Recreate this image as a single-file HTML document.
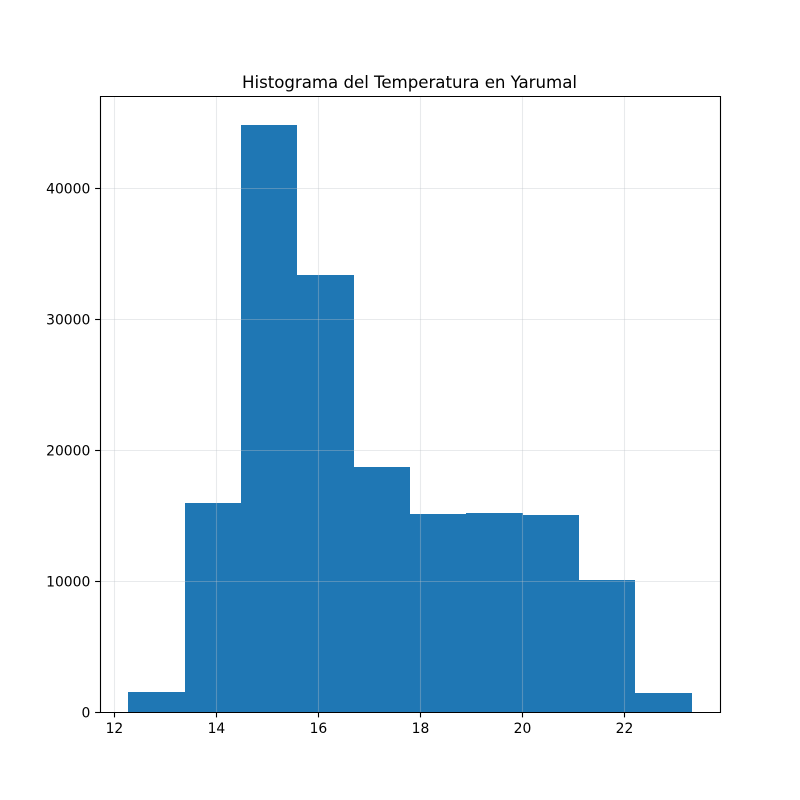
<!DOCTYPE html>
<html lang="es">
<head>
<meta charset="utf-8">
<title>Histograma del Temperatura en Yarumal</title>
<style>
html,body{margin:0;padding:0;background:#fff;width:800px;height:800px;overflow:hidden}
svg{display:block}
text{font-family:"DejaVu Sans","Liberation Sans",sans-serif;fill:#000}
</style>
</head>
<body>
<svg id="chart" width="800" height="800" viewBox="0 0 800 800" xmlns="http://www.w3.org/2000/svg">
<rect x="0" y="0" width="800" height="800" fill="#fff"></rect>
<g id="bars"></g>
<g id="grid"></g>
<g id="ticks"></g>
<g id="spines">
<line x1="100.5" y1="96" x2="100.5" y2="713" stroke="#000" stroke-width="1.11"></line>
<line x1="720.5" y1="96" x2="720.5" y2="713" stroke="#000" stroke-width="1.11"></line>
<line x1="100" y1="96.5" x2="721" y2="96.5" stroke="#000" stroke-width="1.11"></line>
<line x1="100" y1="712.5" x2="721" y2="712.5" stroke="#000" stroke-width="1.11"></line>
</g>
<text x="409.5" y="88" text-anchor="middle" font-size="16.67" textLength="335" lengthAdjust="spacing">Histograma del Temperatura en Yarumal</text>
</svg>
<script>
const binEdges = [12.27, 13.375, 14.48, 15.585, 16.69, 17.795, 18.9, 20.005, 21.11, 22.215, 23.32];
const binCounts = [1500, 15950, 44800, 33350, 18700, 15100, 15200, 15050, 10050, 1450];
const xTickLabels = [12, 14, 16, 18, 20, 22];
const yTickLabels = [0, 10000, 20000, 30000, 40000];

const svgNS = 'http://www.w3.org/2000/svg';
const plotLeft = 100, plotRight = 720, plotTop = 96, plotBottom = 712;
const xLow = binEdges[0], xHigh = binEdges[binEdges.length - 1];
const xMargin = (xHigh - xLow) * 0.05;
const yMax = Math.max.apply(null, binCounts) * 1.05;

function xScale(v) {
  return plotLeft + (v - (xLow - xMargin)) / ((xHigh + xMargin) - (xLow - xMargin)) * (plotRight - plotLeft);
}
function yScale(v) {
  return plotBottom - (v / yMax) * (plotBottom - plotTop);
}
function snap(p) {
  return Math.floor(p) + 0.5;
}
function make(tag, attrs, parent) {
  const el = document.createElementNS(svgNS, tag);
  Object.keys(attrs).forEach(function (k) { el.setAttribute(k, attrs[k]); });
  parent.appendChild(el);
  return el;
}

const barsGroup = document.getElementById('bars');
const gridGroup = document.getElementById('grid');
const ticksGroup = document.getElementById('ticks');

binCounts.forEach(function (count, i) {
  const x0 = Math.round(xScale(binEdges[i]));
  const x1 = Math.round(xScale(binEdges[i + 1]));
  const yTop = Math.round(yScale(count));
  const bar = make('rect', { x: x0, y: yTop, width: x1 - x0, height: plotBottom - yTop, fill: '#1f77b4', 'shape-rendering': 'crispEdges' }, barsGroup);
  
  
});

xTickLabels.forEach(function (t) {
  const px = snap(xScale(t));
  const g = make('line', { x1: px, y1: plotTop, x2: px, y2: plotBottom, stroke: '#bcc2c8', 'stroke-opacity': 0.35, 'stroke-width': 1.11 }, gridGroup);
  
  
  const m = make('line', { x1: px, y1: plotBottom, x2: px, y2: plotBottom + 5.4, stroke: '#000', 'stroke-width': 1.11 }, ticksGroup);
  
  
  const label = make('text', { x: xScale(t), y: 733, 'text-anchor': 'middle', 'font-size': 13.89 }, ticksGroup);
  label.textContent = String(t);
  
  
});

yTickLabels.forEach(function (t) {
  const py = snap(yScale(t));
  const g = make('line', { x1: plotLeft, y1: py, x2: plotRight, y2: py, stroke: '#bcc2c8', 'stroke-opacity': 0.35, 'stroke-width': 1.11 }, gridGroup);
  
  
  const m = make('line', { x1: plotLeft - 4.9, y1: py, x2: plotLeft, y2: py, stroke: '#000', 'stroke-width': 1.11 }, ticksGroup);
  
  
  const label = make('text', { x: 90.3, y: yScale(t) + 5.5, 'text-anchor': 'end', 'font-size': 13.89 }, ticksGroup);
  label.textContent = String(t);
  
  
});
</script>
</body>
</html>
